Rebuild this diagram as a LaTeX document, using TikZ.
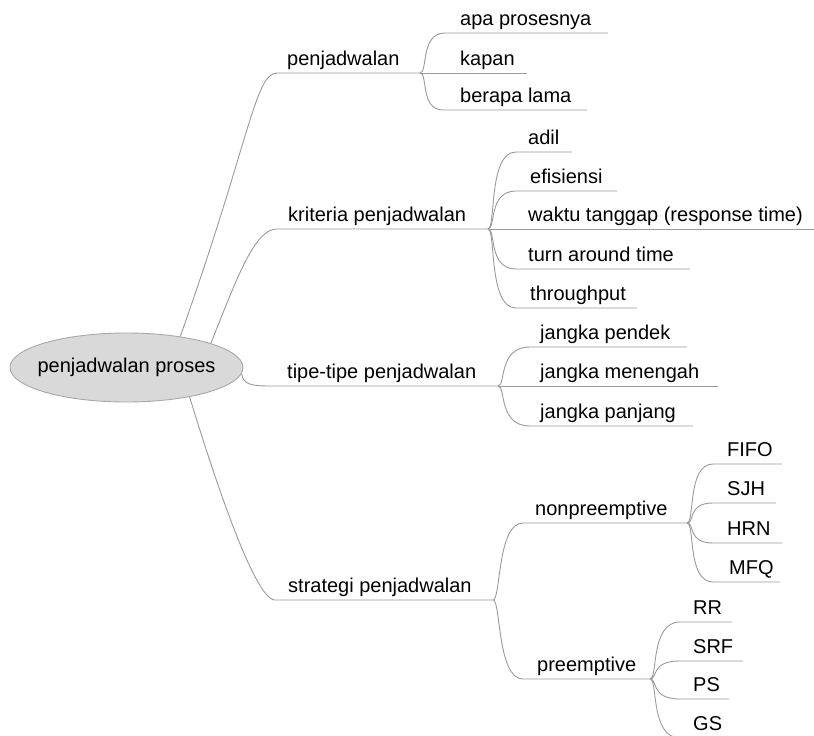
\documentclass[tikz,border=0pt]{standalone}
\usepackage{fontspec}
\setmainfont{Liberation Sans}
\usetikzlibrary{shapes.geometric}
\definecolor{lin}{HTML}{9A9A9A}
\definecolor{rootfill}{HTML}{D9D9D9}
\definecolor{rootdraw}{HTML}{A8A8A8}
\begin{document}
\begin{tikzpicture}[x=1pt,y=-1pt,
  lbl/.style={anchor=base west, inner sep=0pt, font=\fontsize{20}{24}\selectfont},
  conn/.style={draw=lin, line width=0.9pt},
  rootnode/.style={ellipse, draw=rootdraw, fill=rootfill, line width=0.9pt,
     minimum width=233pt, minimum height=69pt, inner sep=0pt}]
\useasboundingbox (0,0) rectangle (814,736);

% ---------- coordinates ----------
% level 1
\coordinate (s1) at (277,73);  \coordinate (F1) at (420,73);
\coordinate (s2) at (277,229); \coordinate (F2) at (488,229);
\coordinate (s3) at (270,386); \coordinate (F3) at (498,386);
\coordinate (s4) at (275,600); \coordinate (F4) at (493,600);
% children of penjadwalan
\coordinate (a1) at (445,33);  \coordinate (a2) at (608,33);
\coordinate (b2) at (527,73);
\coordinate (c1) at (443,110); \coordinate (c2) at (587,110);
% children of kriteria
\coordinate (d1) at (516,152); \coordinate (d2) at (572,152);
\coordinate (e1) at (516,191); \coordinate (e2) at (617,191);
\coordinate (w2) at (814,229);
\coordinate (t1) at (516,269); \coordinate (t2) at (690,269);
\coordinate (h1) at (516,308); \coordinate (h2) at (637,308);
% children of tipe-tipe
\coordinate (j1) at (530,347); \coordinate (j2) at (687,347);
\coordinate (m2) at (718,386);
\coordinate (k1) at (530,426); \coordinate (k2) at (693,426);
% children of strategi
\coordinate (n1) at (523,523); \coordinate (F5) at (687,523);
\coordinate (q1) at (523,679); \coordinate (F6) at (650,679);
% children of nonpreemptive
\coordinate (fi1) at (713,464); \coordinate (fi2) at (782,464);
\coordinate (sj1) at (713,503); \coordinate (sj2) at (776,503);
\coordinate (hr1) at (713,543); \coordinate (hr2) at (782,543);
\coordinate (mf1) at (713,582); \coordinate (mf2) at (780,582);
% children of preemptive
\coordinate (rr1) at (680,622); \coordinate (rr2) at (732,622);
\coordinate (sr1) at (680,661); \coordinate (sr2) at (743,661);
\coordinate (ps1) at (680,699); \coordinate (ps2) at (729,699);
\coordinate (gs1) at (680,738); \coordinate (gs2) at (730,738);

% ---------- root ----------
\node[rootnode, label={[font=\fontsize{20}{24}\selectfont, inner sep=0pt]center:penjadwalan proses}] (root) at (126.5,367.5) {};

% ---------- level-1 connectors ----------
\draw[conn] (root.30) .. controls (250,140) and (255,73) .. (s1) -- (F1);
\draw[conn] (root.16) .. controls (238,275) and (255,229) .. (s2) -- (F2);
\draw[conn] (root.-3) .. controls (243,384) and (250,386) .. (s3) -- (F3);
\draw[conn] (root.-25) .. controls (215,480) and (255,600) .. (s4) -- (F4);

% ---------- level-2 connectors ----------
\draw[conn] (F1) .. controls +(8,0) and +(-25,0) .. (a1) -- (a2);
\draw[conn] (F1) -- (b2);
\draw[conn] (F1) .. controls +(8,0) and +(-23,0) .. (c1) -- (c2);

\draw[conn] (F2) .. controls +(8,0) and +(-28,0) .. (d1) -- (d2);
\draw[conn] (F2) .. controls +(8,0) and +(-28,0) .. (e1) -- (e2);
\draw[conn] (F2) -- (w2);
\draw[conn] (F2) .. controls +(8,0) and +(-28,0) .. (t1) -- (t2);
\draw[conn] (F2) .. controls +(8,0) and +(-28,0) .. (h1) -- (h2);

\draw[conn] (F3) .. controls +(8,0) and +(-32,0) .. (j1) -- (j2);
\draw[conn] (F3) -- (m2);
\draw[conn] (F3) .. controls +(8,0) and +(-32,0) .. (k1) -- (k2);

\draw[conn] (F4) .. controls +(8,0) and +(-26,0) .. (n1) -- (F5);
\draw[conn] (F4) .. controls +(8,0) and +(-26,0) .. (q1) -- (F6);

% ---------- level-3 connectors ----------
\draw[conn] (F5) .. controls +(8,0) and +(-26,0) .. (fi1) -- (fi2);
\draw[conn] (F5) .. controls +(8,0) and +(-26,0) .. (sj1) -- (sj2);
\draw[conn] (F5) .. controls +(8,0) and +(-26,0) .. (hr1) -- (hr2);
\draw[conn] (F5) .. controls +(8,0) and +(-26,0) .. (mf1) -- (mf2);

\draw[conn] (F6) .. controls +(8,0) and +(-30,0) .. (rr1) -- (rr2);
\draw[conn] (F6) .. controls +(8,0) and +(-30,0) .. (sr1) -- (sr2);
\draw[conn] (F6) .. controls +(8,0) and +(-30,0) .. (ps1) -- (ps2);
\draw[conn] (F6) .. controls +(8,0) and +(-30,0) .. (gs1) -- (gs2);

% ---------- labels ----------
\node[lbl] (Lp)  at (287,65)  {penjadwalan};
\node[lbl] (Lk)  at (288,221) {kriteria penjadwalan};
\node[lbl] (Lt)  at (287,378) {tipe-tipe penjadwalan};
\node[lbl] (Ls)  at (288,592) {strategi penjadwalan};

\node[lbl] (La)  at (460,25)  {apa prosesnya};
\node[lbl] (Lb)  at (460,65)  {kapan};
\node[lbl] (Lc)  at (460,102) {berapa lama};

\node[lbl] (Ld)  at (528,144) {adil};
\node[lbl] (Le)  at (530,183) {efisiensi};
\node[lbl] (Lw)  at (528,221) {waktu tanggap (response time)};
\node[lbl] (Ltu) at (528,261) {turn around time};
\node[lbl] (Lh)  at (530,300) {throughput};

\node[lbl] (Lj)  at (540,339) {jangka pendek};
\node[lbl] (Lm)  at (540,378) {jangka menengah};
\node[lbl] (Lpj) at (540,418) {jangka panjang};

\node[lbl] (Ln)  at (535,515) {nonpreemptive};
\node[lbl] (Lq)  at (537,671) {preemptive};

\node[lbl] (Lfi) at (727,456) {FIFO};
\node[lbl] (Lsj) at (727,495) {SJH};
\node[lbl] (Lhr) at (727,535) {HRN};
\node[lbl] (Lmf) at (729,574) {MFQ};

\node[lbl] (Lrr) at (693,614) {RR};
\node[lbl] (Lsr) at (693,653) {SRF};
\node[lbl] (Lps) at (693,691) {PS};
\node[lbl] (Lgs) at (693,730) {GS};
\end{tikzpicture}
\end{document}
